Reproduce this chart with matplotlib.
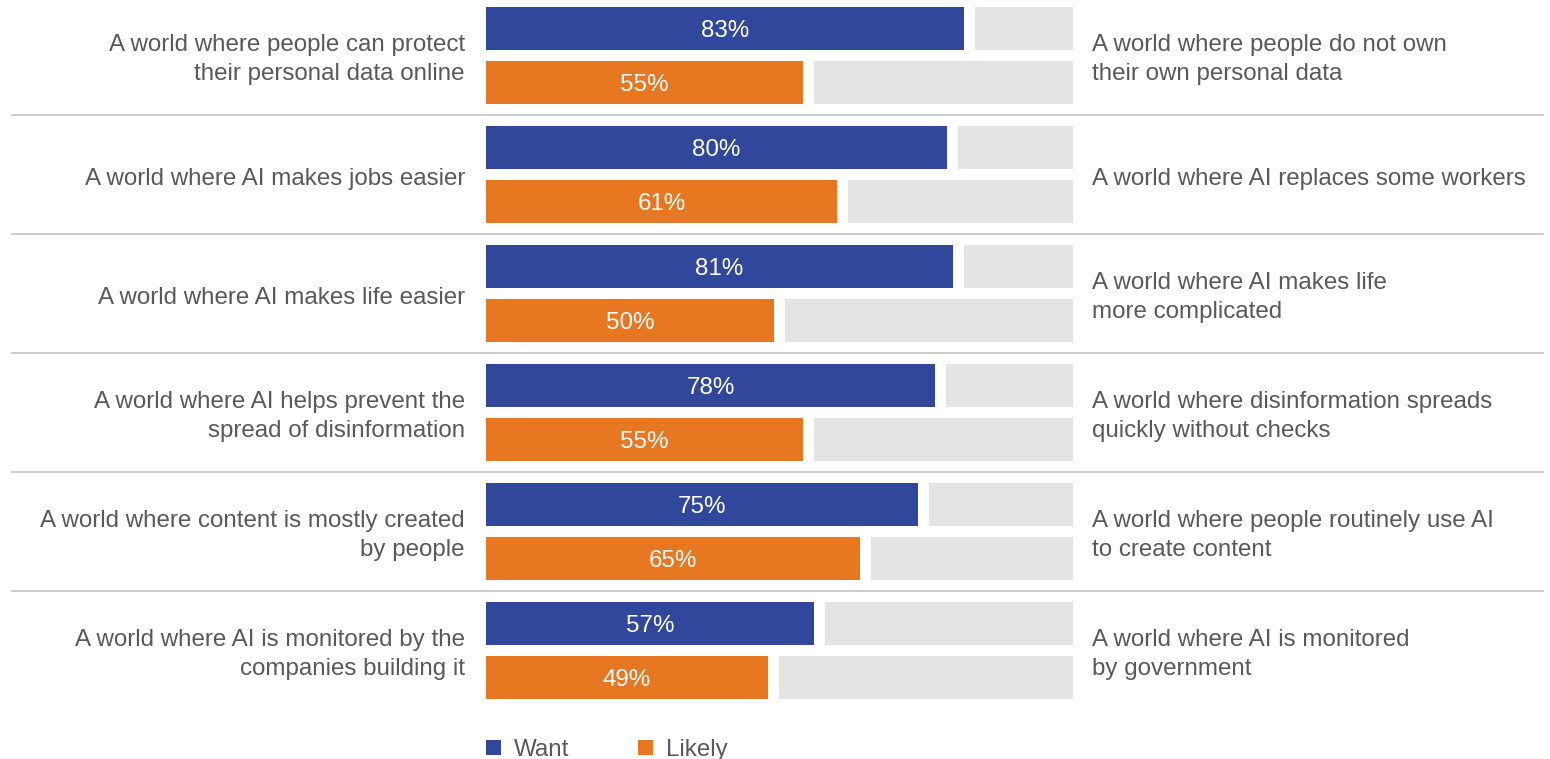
import matplotlib
matplotlib.use("Agg")
import matplotlib.pyplot as plt
from matplotlib.patches import Patch

plt.rcParams['font.family'] = ['Liberation Sans', 'DejaVu Sans']

left_labels = [
    "A world where people can protect\ntheir personal data online",
    "A world where AI makes jobs easier",
    "A world where AI makes life easier",
    "A world where AI helps prevent the\nspread of disinformation",
    "A world where content is mostly created\nby people",
    "A world where AI is monitored by the\ncompanies building it",
]
right_labels = [
    "A world where people do not own\ntheir own personal data",
    "A world where AI replaces some workers",
    "A world where AI makes life\nmore complicated",
    "A world where disinformation spreads\nquickly without checks",
    "A world where people routinely use AI\nto create content",
    "A world where AI is monitored\nby government",
]
want = [83, 80, 81, 78, 75, 57]
likely = [55, 61, 50, 55, 65, 49]
series_names = ["Want", "Likely"]

BLUE = "#30479B"
ORANGE = "#E87722"
GREY = "#E4E4E4"
SEP = "#C8C8C8"
TXT = "#595959"

W, H = 1550, 759
fig = plt.figure(figsize=(W / 100, H / 100), dpi=100)
ax_left_px, ax_right_px = 486, 1073
ax = fig.add_axes([ax_left_px / W, 0, (ax_right_px - ax_left_px) / W, 1])

px_per_unit = 5.76
gap = 11 / px_per_unit
full = 100 + gap
ax.set_xlim(0, full)
grp_px = 119.0
top_off = -4.0
ax.set_ylim((H - top_off) / grp_px, (0 - top_off) / grp_px)
ax.axis("off")

bh = 43 / grp_px
fs = 17.4
lab_dy = 4 / grp_px
val_dy = 2.5 / grp_px
for i in range(len(want)):
    for val, yc, col in ((want[i], i + 0.273, BLUE), (likely[i], i + 0.727, ORANGE)):
        ax.barh(yc, val, height=bh, color=col, left=0)
        ax.barh(yc, full - (val + gap), height=bh, left=val + gap, color=GREY)
        ax.text(val / 2, yc + val_dy, f"{val}%", ha="center", va="center",
                color="white", fontsize=fs)
    ax.text((465 - ax_left_px) / px_per_unit, i + 0.5 + lab_dy, left_labels[i],
            ha="right", va="center", color=TXT, fontsize=fs,
            linespacing=1.42, clip_on=False)
    ax.text((1092 - ax_left_px) / px_per_unit, i + 0.5 + lab_dy, right_labels[i],
            ha="left", va="center", color=TXT, fontsize=fs,
            linespacing=1.42, clip_on=False)
    if i > 0:
        axw = ax_right_px - ax_left_px
        ax.axhline(i, xmin=(12 - ax_left_px) / axw, xmax=(1543 - ax_left_px) / axw,
                   color=SEP, lw=1.3, clip_on=False)

handles = [Patch(facecolor=BLUE), Patch(facecolor=ORANGE)]
fig.legend(handles, series_names, loc="center left",
           bbox_to_anchor=(486 / W, 1 - 750 / H), frameon=False, ncol=2,
           fontsize=fs, handlelength=0.6, handleheight=0.6,
           handletextpad=0.55, columnspacing=2.85, labelcolor=TXT,
           borderaxespad=0, borderpad=0)

fig.savefig("out.png", dpi=100)
